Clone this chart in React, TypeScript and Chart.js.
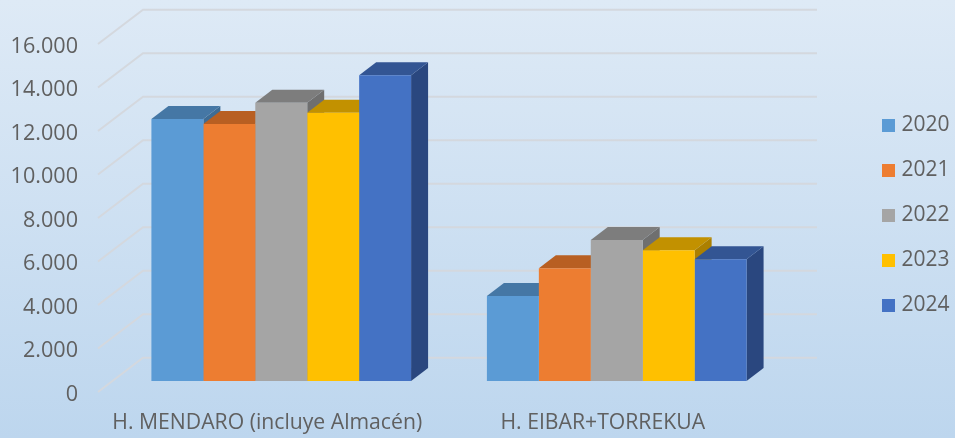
import React, { useEffect, useRef } from "react";
import { Chart, registerables } from "chart.js";

Chart.register(...registerables);

const categories = ["H. MENDARO (incluye Almacén)", "H. EIBAR+TORREKUA"];
const years = ["2020", "2021", "2022", "2023", "2024"];
const values2020 = [12046, 3908];
const values2021 = [11816, 5182];
const values2022 = [12795, 6483];
const values2023 = [12336, 6009];
const values2024 = [14055, 5595];
const seriesValues = [values2020, values2021, values2022, values2023, values2024];
const frontColors = ["#5B9BD5", "#ED7D31", "#A5A5A5", "#FFC000", "#4472C4"];
const topColors = ["#4577A5", "#B85F22", "#7D7D7D", "#C29100", "#335593"];
const sideColors = ["#3E6C95", "#A65520", "#6F6F6F", "#AC8000", "#2A477F"];
const tickValues = [0, 2000, 4000, 6000, 8000, 10000, 12000, 14000, 16000];

const FONT = "'Open Sans', 'Noto Sans', sans-serif";
const TEXT = "#606060";
const GRID = "#D4D8DE";
const DEPTH_X = 17;
const DEPTH_Y = 13;
const WALL_DX = 29.5;
const WALL_DY = 23.3;
const FRONT_DX = 15.5;
const FRONT_DY = 11;
const WALL_END = 817;

const poly = (ctx: CanvasRenderingContext2D, pts: number[][], fill: string) => {
  ctx.beginPath();
  pts.forEach(([x, y], i) => (i ? ctx.lineTo(x, y) : ctx.moveTo(x, y)));
  ctx.closePath();
  ctx.fillStyle = fill;
  ctx.fill();
};

const threeD = {
  id: "threeD",
  afterLayout(chart: any) {
    const legend = chart.legend;
    if (legend) {
      const pad = legend.options.labels.padding;
      legend.left = 886 - pad;
      legend.right = 955;
      legend.top = 91;
      legend.bottom = 438;
    }
  },
  beforeDatasetsDraw(chart: any) {
    const { ctx, chartArea } = chart;
    const y = chart.scales.y;
    ctx.save();
    // wall gridlines with their floor diagonal
    ctx.strokeStyle = GRID;
    ctx.lineWidth = 2;
    y.ticks.forEach((t: any) => {
      const py = y.getPixelForValue(t.value);
      ctx.beginPath();
      ctx.moveTo(chartArea.left - FRONT_DX, py + FRONT_DY);
      ctx.lineTo(chartArea.left + WALL_DX, py - WALL_DY);
      ctx.lineTo(WALL_END, py - WALL_DY);
      ctx.stroke();
    });
    // depth faces, left to right; the front faces are then drawn by the library
    const n = chart.data.labels.length;
    for (let c = 0; c < n; c++) {
      chart.data.datasets.forEach((_: any, d: number) => {
        const bar = chart.getDatasetMeta(d).data[c];
        const p = bar.getProps(["x", "y", "base", "width"], true);
        const l = p.x - p.width / 2;
        const r = p.x + p.width / 2;
        poly(ctx, [[r, p.y], [r + DEPTH_X, p.y - DEPTH_Y], [r + DEPTH_X, p.base - DEPTH_Y], [r, p.base]], sideColors[d]);
        poly(ctx, [[l, p.y], [l + DEPTH_X, p.y - DEPTH_Y], [r + DEPTH_X, p.y - DEPTH_Y], [r, p.y]], topColors[d]);
      });
    }
    ctx.restore();
  },
};

export default function App() {
  const ref = useRef<HTMLCanvasElement>(null);
  useEffect(() => {
    const chart = new Chart(ref.current!, {
      type: "bar",
      data: {
        labels: categories,
        datasets: years.map((label, i) => ({
          label,
          data: seriesValues[i],
          backgroundColor: frontColors[i],
          borderWidth: 0,
        })),
      },
      plugins: [threeD],
      options: {
        responsive: false,
        animation: false,
        layout: { autoPadding: false, padding: { top: 33, right: 170.5, left: 0, bottom: 0 } },
        datasets: { bar: { categoryPercentage: 0.774, barPercentage: 1 } },
        scales: {
          x: {
            grid: { display: false, drawTicks: false },
            border: { display: false },
            afterFit: (s: any) => { s.height = 57; },
            ticks: {
              color: TEXT,
              font: { family: FONT, size: 21.2 },
              padding: 29,
              labelOffset: -14,
              maxRotation: 0,
              autoSkip: false,
            },
          },
          y: {
            min: 0,
            max: 16000,
            afterFit: (s: any) => { s.width = 113.5; },
            afterBuildTicks: (s: any) => { s.ticks = tickValues.map((value) => ({ value })); },
            grid: { display: false, drawTicks: true, tickLength: 35.5 },
            border: { display: false },
            ticks: {
              color: TEXT,
              font: { family: FONT, size: 21.6 },
              padding: 0,
              labelOffset: 13.5,
              callback: (v: any) => (v === 0 ? "0" : Number(v).toLocaleString("de-DE")),
            },
          },
        },
        plugins: {
          tooltip: { enabled: false },
          legend: {
            position: "chartArea" as any,
            align: "start",
            labels: {
              color: TEXT,
              font: { family: FONT, size: 21, lineHeight: 1 },
              boxWidth: 5,
              boxHeight: 5,
              padding: 24,
              generateLabels: (c: any) =>
                Chart.defaults.plugins.legend.labels
                  .generateLabels(c)
                  .map((it: any) => ({ ...it, lineWidth: 8, strokeStyle: it.fillStyle })),
            },
          },
        },
      },
    });
    return () => chart.destroy();
  }, []);
  return (
    <div
      style={{
        position: "absolute",
        left: 0,
        top: 0,
        width: 955,
        height: 438,
        background: "linear-gradient(180deg, #DEEAF6 0%, #BDD6EE 100%)",
      }}
    >
      <canvas ref={ref} width={955} height={438} style={{ display: "block" }} />
    </div>
  );
}
